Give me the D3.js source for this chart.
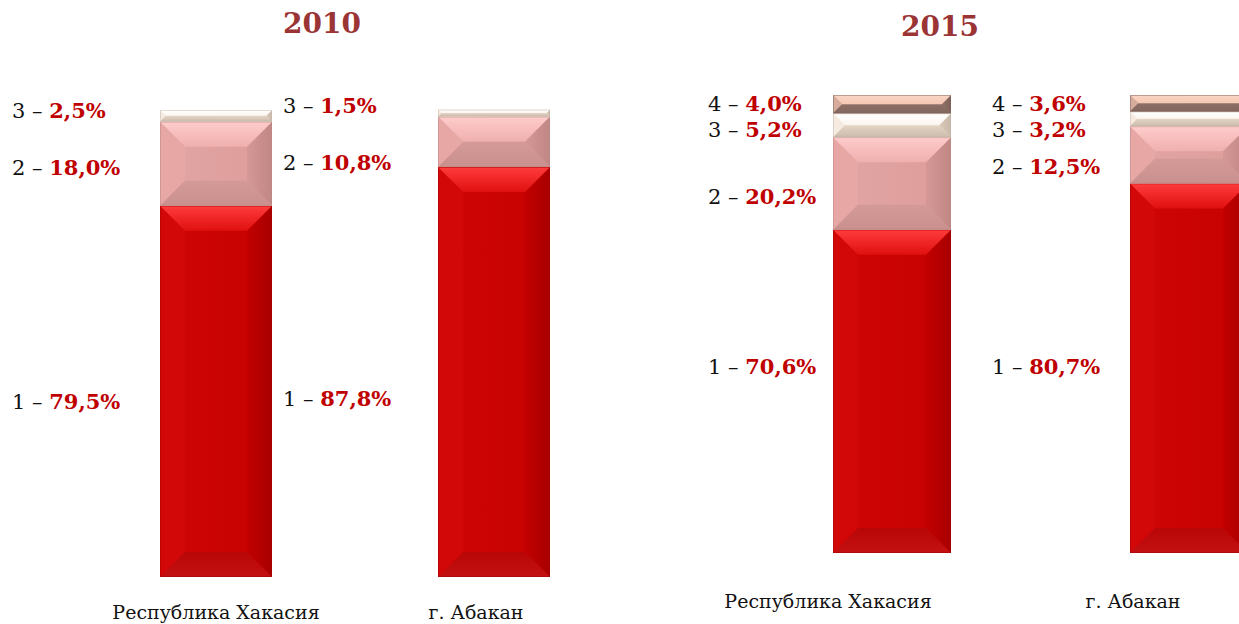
<!DOCTYPE html>
<html>
<head>
<meta charset="utf-8">
<script src="https://cdn.jsdelivr.net/npm/d3@7"></script>
<style>
  body { margin: 0; background: #fff; }
  svg { display: block; font-family: "DejaVu Serif", "Liberation Serif", serif; }
</style>
</head>
<body>
<div id="root"></div>
<script>
// data
const years = ["2010", "2015"]
const regions = ["Республика Хакасия", "г. Абакан"]
const groups = ["1", "2", "3", "4"]
const hak2010 = [79.5, 18.0, 2.5]
const aba2010 = [87.8, 10.8, 1.5]
const hak2015 = [70.6, 20.2, 5.2, 4.0]
const aba2015 = [80.7, 12.5, 3.2, 3.6]

const width = 1239, height = 624

// bevel palettes per group: top, left, center, right, bottom
const palettes = [
  {top: ["#ff3c3c", "#e01010"], left: "#d20707", center: ["#cf0606", "#c60000"], right: ["#c20000", "#a80000"], bottom: ["#b80606", "#c41010"], stroke: "#a80000"},
  {top: ["#ffcccc", "#efb0ae"], left: "#e6a7a5", center: ["#e3a5a3", "#dc9d9b"], right: ["#d59896", "#c08785"], bottom: ["#d49a98", "#ca908e"], stroke: "#b88a88"},
  {top: ["#ffffff", "#fbf5ef"], left: "#f6ebe0", center: ["#f2e4d8", "#eee0d2"], right: ["#dccbbd", "#c8b8aa"], bottom: ["#e4d4c4", "#cbbcae"], stroke: "#c8b8aa"},
  {top: ["#fad6c4", "#f4c8b4"], left: "#d8ac9c", center: ["#b08474", "#a07466"], right: ["#8e7068", "#7c625a"], bottom: ["#8c6e66", "#826860"], stroke: "#7c625a"}
]

const fmt = v => d3.format(".1f")(v).replace(".", ",") + "%"

// layout per panel
const panels = [
  {year: years[0], values: [hak2010, aba2010], xRange: [216, 494], yRange: [577, 110], barW: 112, titleX: 322, titleY: 33,
   labelX: [12, 283], nudge: [[10, 4, -5], [27, 21, -7]], catDx: [0, -18], catY: 619},
  {year: years[1], values: [hak2015, aba2015], xRange: [892, 1189], yRange: [553, 95], barW: 118, titleX: 940, titleY: 36,
   labelX: [708, 992], nudge: [[-25, 13, 4, -1], [-2, 12, 11, 0]], catDx: [-64, -56], catY: 608}
]

const svg = d3.select("#root").append("svg")
  .attr("width", width)
  .attr("height", height)

const defs = svg.append("defs")
palettes.forEach((p, i) => {
  const mk = (id, c, vertical) => {
    const lg = defs.append("linearGradient").attr("id", id)
      .attr("x1", 0).attr("y1", 0)
      .attr("x2", vertical ? 0 : 1).attr("y2", vertical ? 1 : 0)
    lg.append("stop").attr("offset", "0%").attr("stop-color", c[0])
    lg.append("stop").attr("offset", "100%").attr("stop-color", c[1])
  }
  mk("top" + i, p.top, true)
  mk("center" + i, p.center, false)
  mk("right" + i, p.right, false)
  mk("bottom" + i, p.bottom, true)
})

const bevelSeg = (g, x, y, w, h, i) => {
  const p = palettes[i]
  const b = Math.min(25, h / 2, w / 2)
  const seg = g.append("g")
  const poly = (pts, fill) => seg.append("polygon")
    .attr("points", pts.map(d => d.join(",")).join(" "))
    .attr("fill", fill)
  seg.append("rect").attr("x", x).attr("y", y).attr("width", w).attr("height", h)
    .attr("fill", `url(#center${i})`)
  poly([[x, y], [x + b, y + b], [x + b, y + h - b], [x, y + h]], p.left)
  poly([[x + w, y], [x + w - b, y + b], [x + w - b, y + h - b], [x + w, y + h]], `url(#right${i})`)
  poly([[x, y + h], [x + w, y + h], [x + w - b, y + h - b], [x + b, y + h - b]], `url(#bottom${i})`)
  poly([[x, y], [x + w, y], [x + w - b, y + b], [x + b, y + b]], `url(#top${i})`)
  seg.append("rect").attr("x", x + 0.5).attr("y", y + 0.5).attr("width", w - 1).attr("height", Math.max(0, h - 1))
    .attr("fill", "none").attr("stroke", p.stroke).attr("stroke-opacity", 0.5)
}

panels.forEach(panel => {
  const x = d3.scalePoint().domain(regions).range(panel.xRange)
  const y = d3.scaleLinear().domain([0, 100]).range(panel.yRange)
  const g = svg.append("g")

  g.append("text")
    .attr("x", panel.titleX).attr("y", panel.titleY)
    .attr("text-anchor", "middle")
    .attr("font-size", 28).attr("font-weight", "bold")
    .attr("fill", "#9b3434")
    .text(panel.year)

  regions.forEach((r, ri) => {
    const vals = panel.values[ri]
    const stacked = d3.cumsum(vals)
    const bx = x(r) - panel.barW / 2
    vals.forEach((v, i) => {
      const y0 = y(stacked[i] - v), y1 = y(stacked[i])
      bevelSeg(g, bx, y1, panel.barW, y0 - y1, i)
    })
    vals.forEach((v, i) => {
      const mid = (y(stacked[i] - v) + y(stacked[i])) / 2
      const t = g.append("text")
        .attr("x", panel.labelX[ri])
        .attr("y", mid + panel.nudge[ri][i])
        .attr("dy", "0.35em")
        .attr("font-size", 21)
      t.append("tspan").attr("fill", "#111").text(groups[i] + " – ")
      t.append("tspan").attr("fill", "#c00000").attr("font-weight", "bold").text(fmt(v))
    })
    g.append("text")
      .attr("x", x(r) + panel.catDx[ri])
      .attr("y", panel.catY)
      .attr("text-anchor", "middle")
      .attr("font-size", 19)
      .attr("fill", "#111")
      .text(r)
  })
})
</script>
</body>
</html>
